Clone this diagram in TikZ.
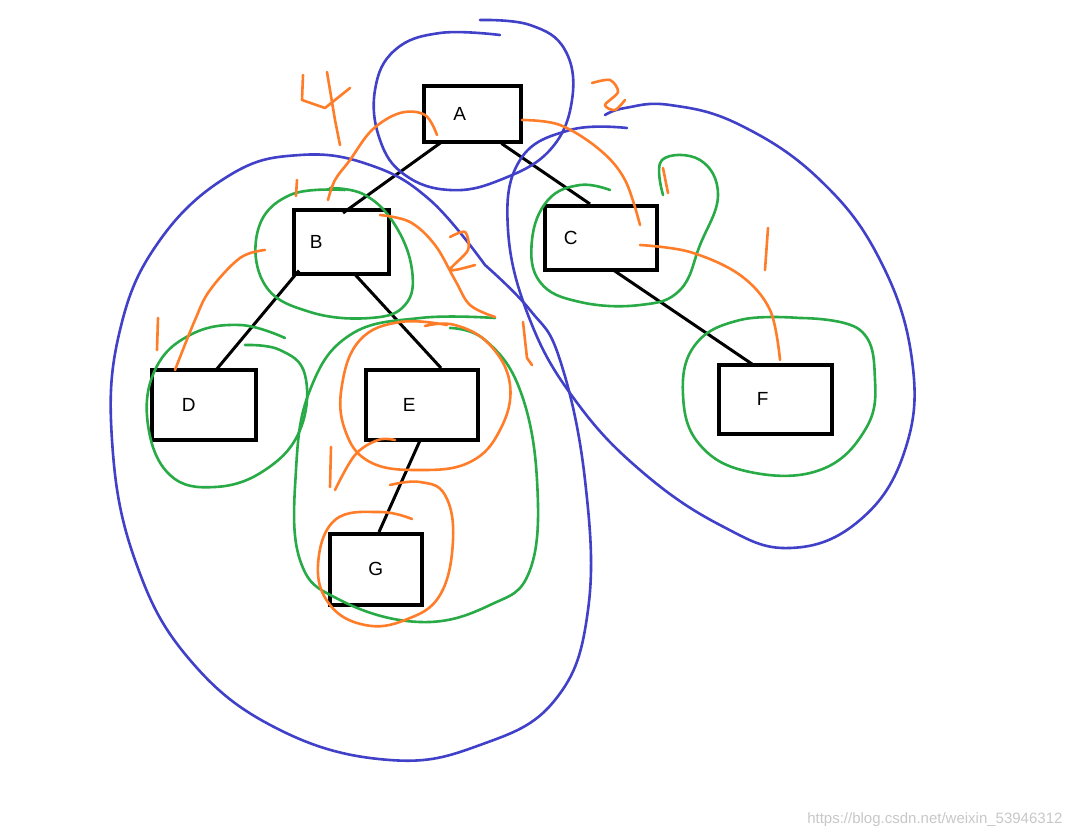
\documentclass[tikz,border=0pt]{standalone}
\usepackage{fontspec}
\setmainfont{Liberation Sans}
\begin{document}
\begin{tikzpicture}[x=1pt,y=-1pt,
  box/.style={draw,line width=3.5pt,minimum width=#1,anchor=north west,inner sep=0pt,font=\fontsize{19}{22}\selectfont},
  blueloop/.style={draw={rgb,255:red,64;green,64;blue,200},line width=2.6pt,line cap=round},
  greenloop/.style={draw={rgb,255:red,40;green,170;blue,70},line width=2.6pt,line cap=round},
  orangeline/.style={draw={rgb,255:red,255;green,125;blue,40},line width=2.6pt,line cap=round,line join=round},
  edge/.style={line width=3pt}]
\useasboundingbox (0,0) rectangle (1073,838);
\fill[white] (0,0) rectangle (1073,838);
% boxes
\node[box=97pt,minimum height=56pt] (A) at (422,84) {\hspace*{-25pt}A};
\node[box=95pt,minimum height=64pt] (B) at (292,208) {\hspace*{-50pt}B};
\node[box=112pt,minimum height=64pt] (C) at (543,204) {\hspace*{-60pt}C};
\node[box=104pt,minimum height=70pt] (D) at (150,368) {\hspace*{-30pt}\raisebox{-8pt}{D}};
\node[box=112pt,minimum height=70pt] (E) at (364,368) {\hspace*{-25pt}\raisebox{-5pt}{E}};
\node[box=113pt,minimum height=69pt] (F) at (717,363) {\hspace*{-25pt}\raisebox{-5pt}{F}};
\node[box=92pt,minimum height=71pt] (G) at (328,532) {\raisebox{-10pt}{G}};
% edges
\draw[edge] ([xshift=19pt,yshift=1pt]A.south west) -- ([xshift=51pt,yshift=-5pt]B.north west);
\draw[edge] ([xshift=-21pt]A.south east) -- ([xshift=47pt]C.north west);
\draw[edge] ([xshift=7pt,yshift=5pt]B.south west) -- ([xshift=66pt,yshift=-2pt]D.north west);
\draw[edge] ([xshift=63pt,yshift=1pt]B.south west) -- ([xshift=77pt]E.north west);
\draw[edge] ([xshift=56pt,yshift=1pt]E.south west) -- ([xshift=51pt]G.north west);
\draw[edge] ([xshift=71pt,yshift=1pt]C.south west) -- ([xshift=35pt,yshift=-1pt]F.north west);
% blue loops
\draw[blueloop] plot[smooth,tension=0.7] coordinates {(500,35)(440,33)(395,50)(375,90)(380,140)(405,175)(450,190)(500,180)(550,150)(572,100)(565,50)(530,25)(480,20)};
\draw[blueloop] plot[smooth,tension=0.7] coordinates {(485,265)(430,200)(370,165)(300,155)(230,175)(160,240)(120,330)(112,440)(135,560)(190,660)(280,730)(390,760)(480,745)(555,700)(588,610)(585,480)(560,360)(530,310)(485,265)};
\draw[blueloop] plot[smooth,tension=0.7] coordinates {(627,128)(570,130)(520,160)(508,230)(530,320)(575,400)(640,470)(720,525)(790,548)(860,520)(905,450)(912,360)(880,260)(820,180)(740,125)(670,105)(625,108)(605,115)};
% green loops
\draw[greenloop] plot[smooth,tension=0.7] coordinates {(345,190)(290,195)(258,230)(265,285)(310,312)(370,318)(405,305)(412,270)(395,225)(365,195)(330,188)};
\draw[greenloop] plot[smooth,tension=0.7] coordinates {(663,195)(662,160)(700,160)(718,195)(700,245)(680,290)(640,305)(580,302)(540,282)(532,240)(548,200)(580,185)(610,190)};
\draw[greenloop] plot[smooth,tension=0.7] coordinates {(285,338)(240,325)(190,335)(155,370)(148,425)(170,475)(215,487)(265,470)(300,430)(305,375)(280,350)(245,345)};
\draw[greenloop] plot[smooth,tension=0.7] coordinates {(495,318)(420,318)(350,335)(310,390)(296,470)(300,560)(340,600)(420,622)(490,605)(530,570)(537,480)(520,390)(485,340)(450,328)};
\draw[greenloop] plot[smooth,tension=0.7] coordinates {(800,318)(740,320)(695,345)(683,395)(700,445)(750,472)(820,470)(865,430)(875,380)(860,330)(800,318)};
% orange loops
\draw[orangeline] plot[smooth,tension=0.7] coordinates {(447,325)(400,322)(360,340)(342,385)(345,430)(370,462)(420,470)(470,462)(500,430)(510,385)(490,345)(455,325)(425,326)};
\draw[orangeline] plot[smooth,tension=0.7] coordinates {(412,519)(380,512)(335,520)(318,565)(330,605)(365,625)(405,620)(440,595)(453,540)(445,495)(420,482)(390,485)};
% orange traversal lines
\draw[orangeline] plot[smooth,tension=0.6] coordinates {(437,135)(425,115)(400,113)(372,130)(350,160)(335,180)(328,200)};
\draw[orangeline] plot[smooth,tension=0.6] coordinates {(522,120)(560,125)(600,150)(625,180)(640,225)};
\draw[orangeline] plot[smooth,tension=0.6] coordinates {(640,245)(690,252)(740,275)(770,310)(780,360)};
\draw[orangeline] plot[smooth,tension=0.6] coordinates {(380,215)(410,222)(435,245)(455,280)(470,305)(495,317)};
\draw[orangeline] plot[smooth,tension=0.6] coordinates {(265,250)(240,258)(210,290)(195,320)(175,370)};
\draw[orangeline] plot[smooth,tension=0.6] coordinates {(335,490)(355,455)(378,440)(395,440)};
% orange numbers
\draw[orangeline] (303,75)--(302,100)--(325,108)--(350,88);
\draw[orangeline] (327,72)--(335,120)--(340,145);
\draw[orangeline] plot[smooth] coordinates {(592,83)(610,80)(618,92)(605,105)(615,110)(625,100)};
\draw[orangeline] plot[smooth] coordinates {(450,237)(465,232)(468,250)(450,270)(475,265)};
\draw[orangeline] (297,180)--(296,196);
\draw[orangeline] (158,318)--(157,350);
\draw[orangeline] (523,322)--(527,358)--(532,365);
\draw[orangeline] (331,447)--(330,487);
\draw[orangeline] (768,228)--(765,270);
\draw[orangeline] (663,168)--(668,193);
% watermark
\node[anchor=south east,text={rgb,255:red,200;green,200;blue,200},font=\fontsize{15}{17}\selectfont] (wm) at (1066,830) {https://blog.csdn.net/weixin\_53946312};
\end{tikzpicture}
\end{document}
